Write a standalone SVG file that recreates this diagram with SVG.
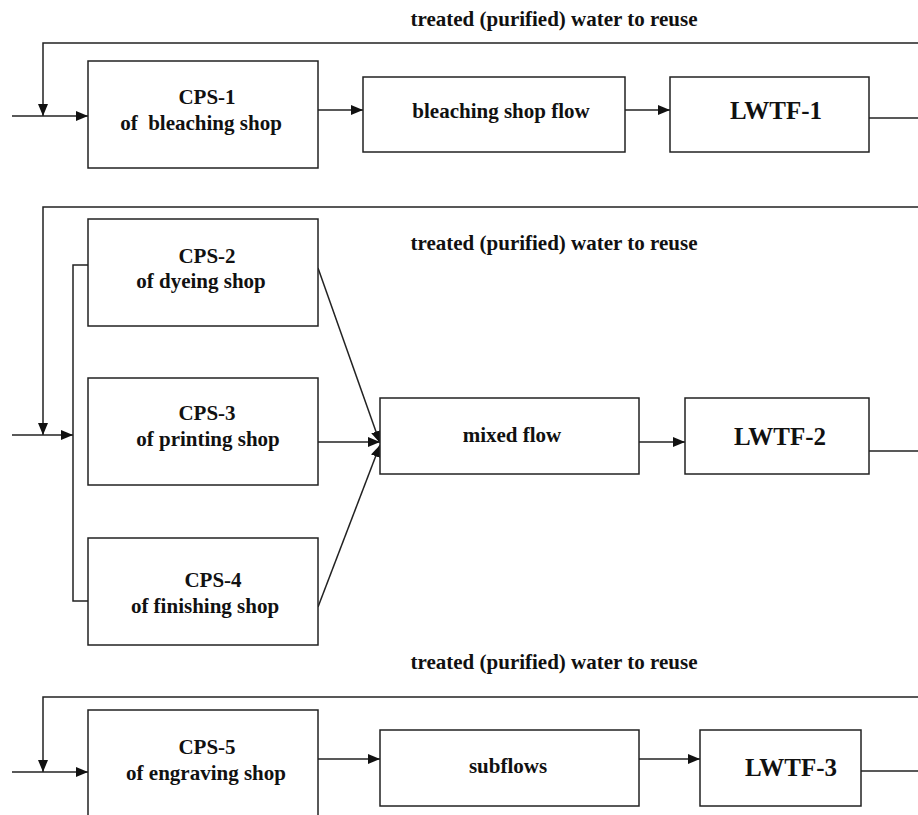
<svg xmlns="http://www.w3.org/2000/svg" width="918" height="815" viewBox="0 0 918 815">
<style>
.box{fill:#fff;stroke:#222;stroke-width:1.5}
.ln{fill:none;stroke:#222;stroke-width:1.5}
.ar{fill:none;stroke:#222;stroke-width:1.5;marker-end:url(#ah)}
.t{font-family:'Liberation Serif','Times New Roman',serif;font-weight:bold;fill:#111;text-anchor:middle;font-size:21px}
.big{font-family:'Liberation Serif','Times New Roman',serif;font-weight:bold;fill:#111;text-anchor:middle;font-size:25px}
</style>
<defs>
<marker id="ah" viewBox="0 0 12 10" refX="12" refY="5" markerWidth="12" markerHeight="10" markerUnits="userSpaceOnUse" orient="auto">
<path d="M0,0 L12,5 L0,10 Z" fill="#111"/>
</marker>
</defs>
<rect width="918" height="815" fill="#fff"/>
<g id="connectors">
<path class="ar" d="M918,43 H43 V116"/>
<path class="ar" d="M12,116 H88"/>
<path class="ar" d="M318,110 H363"/>
<path class="ar" d="M625,110 H670"/>
<path class="ln" d="M869,118 H918"/>
<path class="ar" d="M918,207 H43 V435"/>
<path class="ar" d="M12,435 H73"/>
<path class="ln" d="M88,265 H73 V601 H88"/>
<path class="ar" d="M318,268 L380,443"/>
<path class="ar" d="M318,442 H380"/>
<path class="ar" d="M318,607 L380,445"/>
<path class="ar" d="M639,442 H685"/>
<path class="ln" d="M869,451 H918"/>
<path class="ar" d="M918,697 H43 V772"/>
<path class="ar" d="M12,772 H88"/>
<path class="ar" d="M318,759 H380"/>
<path class="ar" d="M639,759 H700"/>
<path class="ln" d="M861,771 H918"/>
</g>
<g id="labels">
<text class="t" x="554" y="26">treated (purified) water to reuse</text>
<text class="t" x="554" y="250">treated (purified) water to reuse</text>
<text class="t" x="554" y="669">treated (purified) water to reuse</text>
</g>
<g id="cps1">
<rect class="box" x="88" y="61" width="230" height="107"/>
<text class="t" x="207" y="104">CPS-1</text>
<text class="t" x="201" y="130" xml:space="preserve">of  bleaching shop</text>
</g>
<g id="bleaching-flow">
<rect class="box" x="363" y="77" width="262" height="75"/>
<text class="t" x="501" y="118">bleaching shop flow</text>
</g>
<g id="lwtf1">
<rect class="box" x="670" y="77" width="199" height="75"/>
<text class="big" x="776" y="119">LWTF-1</text>
</g>
<g id="cps2">
<rect class="box" x="88" y="219" width="230" height="107"/>
<text class="t" x="207" y="263">CPS-2</text>
<text class="t" x="201" y="288">of dyeing shop</text>
</g>
<g id="cps3">
<rect class="box" x="88" y="378" width="230" height="107"/>
<text class="t" x="207" y="420">CPS-3</text>
<text class="t" x="208" y="446">of printing shop</text>
</g>
<g id="cps4">
<rect class="box" x="88" y="538" width="230" height="107"/>
<text class="t" x="213" y="587">CPS-4</text>
<text class="t" x="205" y="613">of finishing shop</text>
</g>
<g id="mixed-flow">
<rect class="box" x="380" y="398" width="259" height="76"/>
<text class="t" x="512" y="442">mixed flow</text>
</g>
<g id="lwtf2">
<rect class="box" x="685" y="398" width="184" height="76"/>
<text class="big" x="780" y="445">LWTF-2</text>
</g>
<g id="cps5">
<rect class="box" x="88" y="710" width="230" height="110"/>
<text class="t" x="207" y="754">CPS-5</text>
<text class="t" x="206" y="780">of engraving shop</text>
</g>
<g id="subflows">
<rect class="box" x="380" y="730" width="259" height="76"/>
<text class="t" x="508" y="773">subflows</text>
</g>
<g id="lwtf3">
<rect class="box" x="700" y="730" width="161" height="76"/>
<text class="big" x="791" y="776">LWTF-3</text>
</g>
</svg>
